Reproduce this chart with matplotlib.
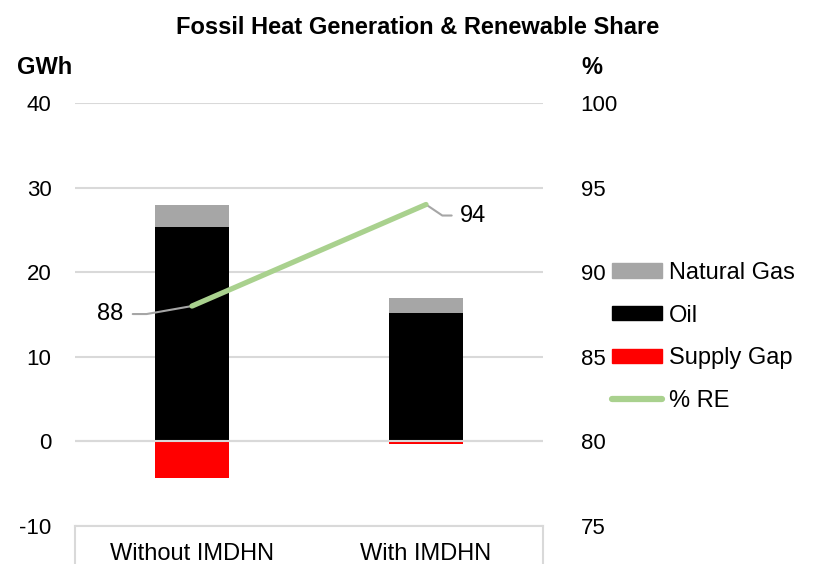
import matplotlib
matplotlib.use("Agg")
import matplotlib.pyplot as plt
from matplotlib.lines import Line2D
from matplotlib.patches import Patch

plt.rcParams["font.family"] = ["Liberation Sans", "DejaVu Sans"]
plt.rcParams["axes.unicode_minus"] = False

# data
categories = ["Without IMDHN", "With IMDHN"]
oil = [25.3, 15.2]
natural_gas = [2.6, 1.7]
supply_gap = [-4.3, -0.3]
re_share = [88, 94]

GAS_C = "#a6a6a6"
OIL_C = "#000000"
GAP_C = "#ff0000"
RE_C = "#a9d18e"
GRID_C = "#d9d9d9"

fig = plt.figure(figsize=(8.17, 5.64), dpi=100)
ax = fig.add_axes([75 / 817, 1 - 526 / 564, 468 / 817, 423 / 564])
x = list(range(len(categories)))
w = 0.32

ax.bar(x, oil, w, color=OIL_C, zorder=2)
ax.bar(x, natural_gas, w, bottom=oil, color=GAS_C, zorder=2)
ax.bar(x, supply_gap, w, color=GAP_C, zorder=2)
ax.axhline(0, color=GRID_C, lw=1.5, zorder=3)

ax.set_xlim(-0.5, 1.5)
ax.set_ylim(-10, 40)
ax.set_yticks([-10, 0, 10, 20, 30, 40])
ax.yaxis.grid(True, color=GRID_C, lw=1.5, zorder=0)
ax.set_axisbelow(True)
for s in ["left", "right", "top"]:
    ax.spines[s].set_visible(False)
ax.spines["bottom"].set_color(GRID_C)
ax.spines["bottom"].set_linewidth(1.5)
ax.set_xticks(x)
ax.set_xticklabels(categories, fontsize=17)
ax.tick_params(axis="x", length=0, pad=12)
ax.tick_params(axis="y", length=0, labelsize=16, pad=17)

# category box lines below the axis
for xa in (0, 1):
    ax.add_line(Line2D([xa, xa], [0, -0.12], transform=ax.transAxes,
                       color=GRID_C, lw=1.5, clip_on=False))

ax2 = ax.twinx()
ax2.set_ylim(75, 100)
ax2.set_yticks([75, 80, 85, 90, 95, 100])
for s in ["left", "right", "top", "bottom"]:
    ax2.spines[s].set_visible(False)
ax2.tick_params(axis="y", length=0, labelsize=16, pad=27)
ax2.plot(x, re_share, color=RE_C, lw=3.8, solid_capstyle="round", zorder=4)

ax2.annotate(f"{re_share[0]}", xy=(x[0], re_share[0]), xytext=(-69, -8),
             textcoords="offset pixels", ha="right", va="center", fontsize=17,
             arrowprops=dict(arrowstyle="-", color="#a6a6a6", lw=1.5,
                             shrinkA=5, shrinkB=0,
                             connectionstyle="angle,angleA=0,angleB=10,rad=0"))
ax2.annotate(f"{re_share[1]}", xy=(x[1], re_share[1]), xytext=(34, -11),
             textcoords="offset pixels", ha="left", va="center", fontsize=17,
             arrowprops=dict(arrowstyle="-", color="#a6a6a6", lw=1.5,
                             shrinkA=4, shrinkB=0,
                             connectionstyle="angle,angleA=0,angleB=-34,rad=0"))

fig.text(418 / 817, 1 - 28 / 564, "Fossil Heat Generation & Renewable Share",
         ha="center", va="center", fontsize=17, fontweight="bold")
fig.text(45 / 817, 1 - 68 / 564, "GWh", ha="center", va="center",
         fontsize=17, fontweight="bold")
fig.text(592 / 817, 1 - 68 / 564, "%", ha="center", va="center",
         fontsize=17, fontweight="bold")

handles = [Patch(color=GAS_C), Patch(color=OIL_C), Patch(color=GAP_C),
           Line2D([], [], color=RE_C, lw=4.5, solid_capstyle="round")]
labels = ["Natural Gas", "Oil", "Supply Gap", "% RE"]
fig.legend(handles, labels, loc="center left",
           bbox_to_anchor=(591 / 817, 1 - 337 / 564), frameon=False,
           fontsize=17, handlelength=2.1, handleheight=0.55,
           handletextpad=0.3, labelspacing=0.88)

fig.savefig("out.png", dpi=100)
